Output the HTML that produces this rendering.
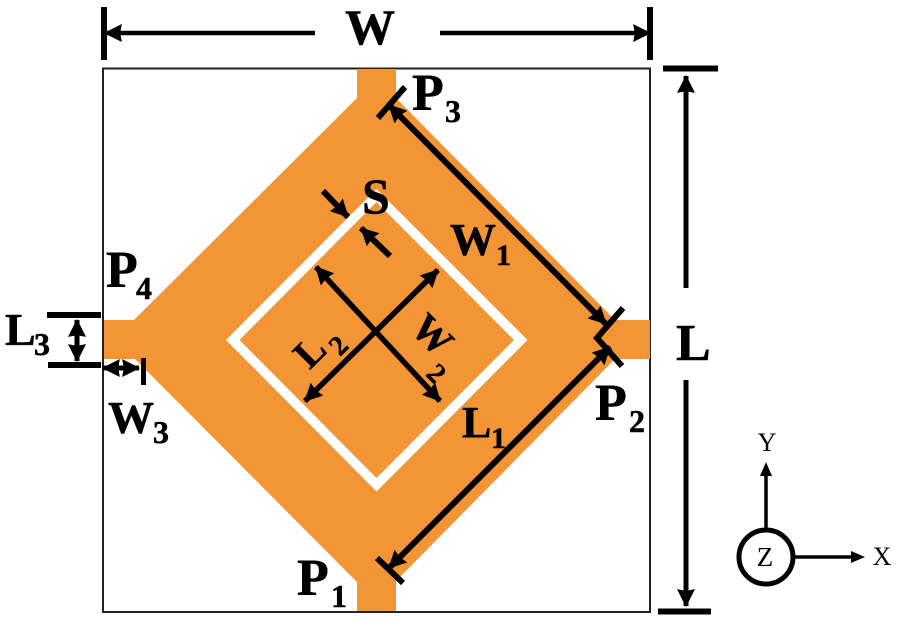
<!DOCTYPE html>
<html>
<head>
<meta charset="utf-8">
<style>
html,body{margin:0;padding:0;background:#fff;width:900px;height:619px;overflow:hidden}
svg{display:block}
text{font-family:"Liberation Serif",serif;font-weight:bold;fill:#000}
.b{stroke:#000;stroke-width:.5px}
.n{font-weight:normal}
</style>
</head>
<body>
<svg width="900" height="619" viewBox="0 0 900 619" xmlns="http://www.w3.org/2000/svg">
<defs>
<marker id="a" viewBox="0 0 16 16" refX="15" refY="8" markerUnits="userSpaceOnUse" markerWidth="18" markerHeight="18" orient="auto-start-reverse"><path d="M0 0L16 8L0 16L1.500 8Z" fill="#000"/></marker>
</defs>
<rect width="900" height="619" fill="#fff"/>
<rect x="103" y="68.500" width="547" height="543.500" fill="#fff" stroke="#222" stroke-width="2"/>
<path d="M357 69H396V98L615 320H650V359H615L396 581V611H357V582L135 359H104V320H134L357 98Z" fill="#f49535"/>
<path fill-rule="evenodd" d="M376.500 189L527.500 340L376.500 491.500L226 340ZM376.500 202L239.500 340L376.500 478L514 340Z" fill="#fff"/>

<g stroke="#000" stroke-width="5" fill="none">
  <path d="M105 33H315" stroke-width="4.500" marker-start="url(#a)"/>
  <path d="M650 33H440" stroke-width="4.500" marker-start="url(#a)"/>
  <path d="M686 76V288" marker-start="url(#a)"/>
  <path d="M686 380V606" marker-end="url(#a)"/>
  <path d="M389 105L606 324" stroke-width="6" marker-start="url(#a)" marker-end="url(#a)"/>
  <path d="M389 568L610 347" stroke-width="6" marker-start="url(#a)" marker-end="url(#a)"/>
  <path d="M77 320V361" marker-start="url(#a)" marker-end="url(#a)"/>
  <path d="M103 368H139" marker-start="url(#a)" marker-end="url(#a)"/>
  <path d="M323 191L348 217" stroke-width="6" marker-end="url(#a)"/>
  <path d="M390 256L361 228" stroke-width="6" marker-end="url(#a)"/>
  <path d="M316 267L440 401" stroke-width="5.500" marker-start="url(#a)" marker-end="url(#a)"/>
  <path d="M438 270L305 401" stroke-width="5.500" marker-start="url(#a)" marker-end="url(#a)"/>
</g>
<g stroke="#000" fill="none">
  <path d="M104 7V60M650 7V60" stroke-width="6"/>
  <path d="M663 68.500H718M658 611.500H711" stroke-width="6"/>
  <path d="M47 315H101M48 365H101" stroke-width="6"/>
  <path d="M143.500 358V385" stroke-width="5"/>
  <path d="M378 118L405 87" stroke-width="6"/>
  <path d="M623 308L597 338L622 366" stroke-width="6"/>
  <path d="M377 558L403 583" stroke-width="6"/>
</g>

<g class="b">
<text x="345" y="44" font-size="50">W</text>
<text x="676" y="360" font-size="52">L</text>
<text x="412" y="110" font-size="52">P</text><text x="445" y="122" font-size="32">3</text>
<text x="362" y="213" font-size="50">S</text>
<text x="450" y="255" font-size="46">W</text><text x="496" y="265" font-size="30">1</text>
<text x="106" y="287" font-size="52">P</text><text x="136" y="299" font-size="32">4</text>
<text x="5" y="345" font-size="46">L</text><text x="34" y="355" font-size="32">3</text>
<text x="108" y="433" font-size="46">W</text><text x="153" y="443" font-size="32">3</text>
<text x="595" y="420" font-size="52">P</text><text x="629" y="432" font-size="32">2</text>
<text x="462" y="437" font-size="44">L</text><text x="491" y="448" font-size="30">1</text>
<text x="297" y="595" font-size="52">P</text><text x="331" y="607" font-size="32">1</text>
<text transform="translate(319 361) rotate(-45)" font-size="40" text-anchor="middle">L</text>
<text transform="translate(345 352) rotate(-45)" font-size="28" text-anchor="middle">2</text>
<text transform="translate(423 344) rotate(45)" font-size="40" text-anchor="middle">W</text>
<text transform="translate(430 380) rotate(45)" font-size="28" text-anchor="middle">2</text>
</g>

<circle cx="766" cy="557" r="27" fill="#fff" stroke="#000" stroke-width="5"/>
<path d="M766 530V475" stroke="#000" stroke-width="3.500"/>
<path d="M766 462L772 476H760Z" fill="#000"/>
<path d="M795 557H855" stroke="#000" stroke-width="3.500"/>
<path d="M865 557L851 563V551Z" fill="#000"/>
<text x="767" y="451" font-size="26" text-anchor="middle" class="n">Y</text>
<text x="765" y="566" font-size="27" text-anchor="middle" class="n">Z</text>
<text x="882" y="565" font-size="26" text-anchor="middle" class="n">X</text>
</svg>
</body>
</html>
